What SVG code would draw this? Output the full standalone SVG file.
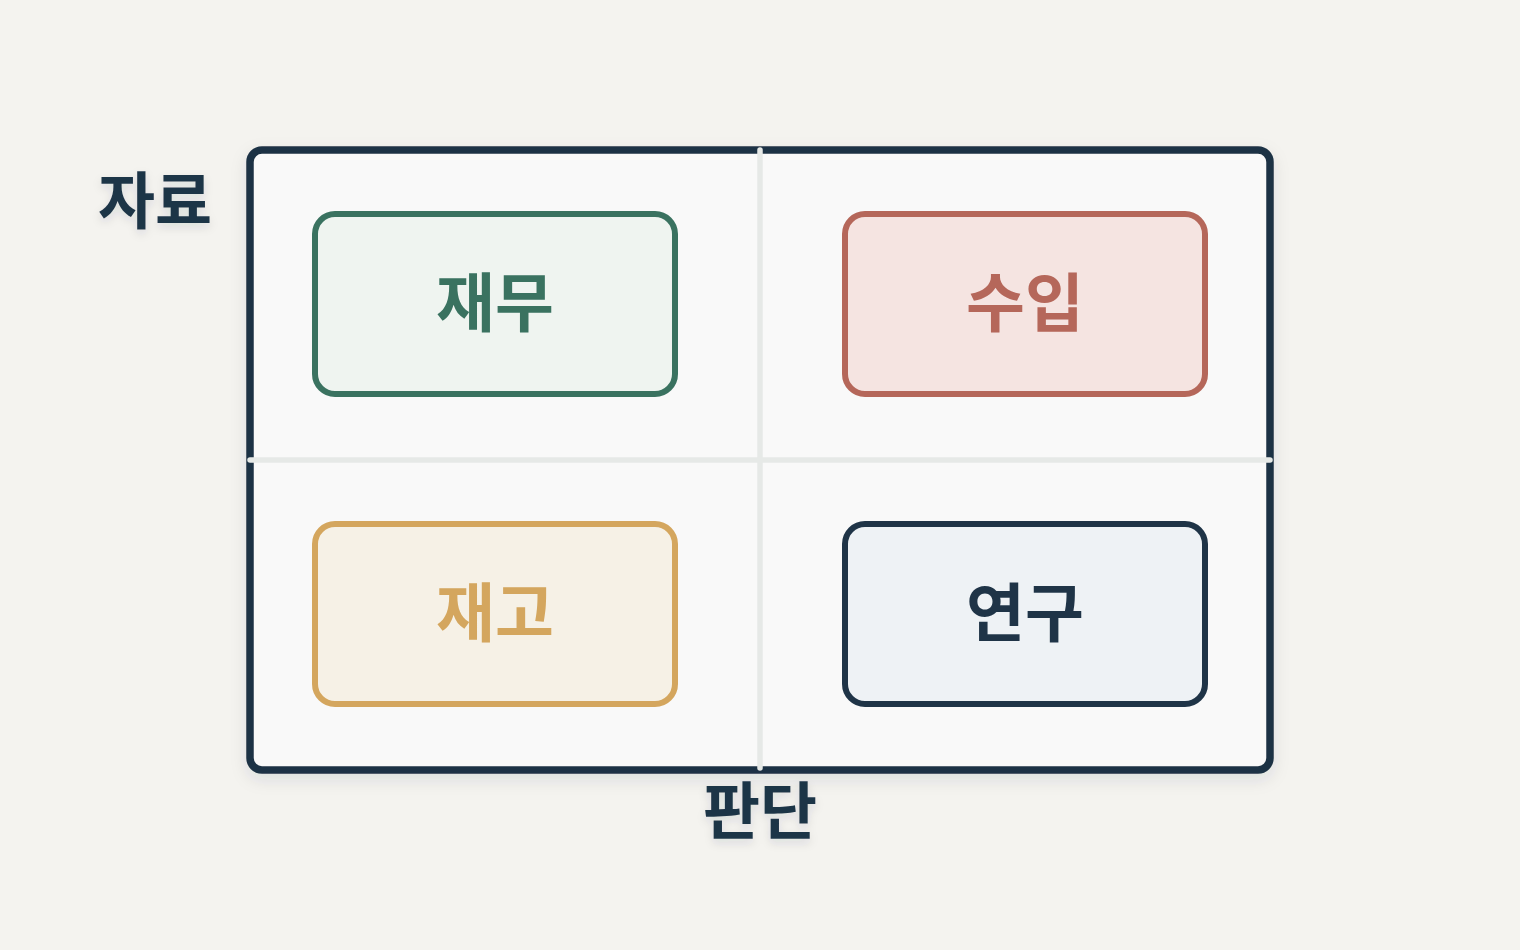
<svg xmlns="http://www.w3.org/2000/svg" width="1520" height="950" viewBox="0 0 1520 950">
  <defs>
    <filter id="shadow" x="-10%" y="-10%" width="120%" height="125%">
      <feDropShadow dx="0" dy="6" stdDeviation="8" flood-color="#1f3344" flood-opacity="0.10"/>
    </filter>
    <filter id="tshadow" x="-30%" y="-30%" width="160%" height="170%">
      <feDropShadow dx="0" dy="4" stdDeviation="5" flood-color="#1f3344" flood-opacity="0.12"/>
    </filter>
  </defs>
  <style>
    .lbl { font-family: "Noto Sans CJK KR", "Noto Sans", sans-serif; font-weight: 700; text-anchor: middle; }
    .axis-lbl { font-size: 62px; fill: #1f3447; }
    .node-txt { font-size: 64px; }
    .node rect { stroke-width: 6; }
    .axis { stroke: #e6e9e7; stroke-width: 5.5; stroke-linecap: round; fill: none; }
  </style>
  <rect x="0" y="0" width="1520" height="950" fill="#f4f3ef"/>

  <g id="frame">
    <rect x="250" y="150" width="1020" height="620" rx="12" fill="#f9f9f9" stroke="#1f3344" stroke-width="7.5" filter="url(#shadow)"/>
  </g>

  <g id="axes">
    <line class="axis" x1="760" y1="150" x2="760" y2="768"/>
    <line class="axis" x1="250" y1="460" x2="1270" y2="460"/>
  </g>

  <g id="label-y">
    <text class="lbl axis-lbl" x="155" y="224" filter="url(#tshadow)">자료</text>
  </g>
  <g id="label-x">
    <text class="lbl axis-lbl" x="760" y="834" filter="url(#tshadow)">판단</text>
  </g>

  <g id="node-finance" class="node">
    <rect x="315" y="214" width="360" height="180" rx="20" fill="#eff4f0" stroke="#3a7260"/>
    <text class="lbl node-txt" x="495" y="326" fill="#3a7260">재무</text>
  </g>
  <g id="node-income" class="node">
    <rect x="845" y="214" width="360" height="180" rx="20" fill="#f5e4e1" stroke="#b5675a"/>
    <text class="lbl node-txt" x="1025" y="326" fill="#b5675a">수입</text>
  </g>
  <g id="node-inventory" class="node">
    <rect x="315" y="524" width="360" height="180" rx="20" fill="#f6f1e6" stroke="#d4a65e"/>
    <text class="lbl node-txt" x="495" y="636" fill="#d4a65e">재고</text>
  </g>
  <g id="node-research" class="node">
    <rect x="845" y="524" width="360" height="180" rx="20" fill="#eef2f5" stroke="#1f3447"/>
    <text class="lbl node-txt" x="1025" y="636" fill="#1f3447">연구</text>
  </g>
</svg>
